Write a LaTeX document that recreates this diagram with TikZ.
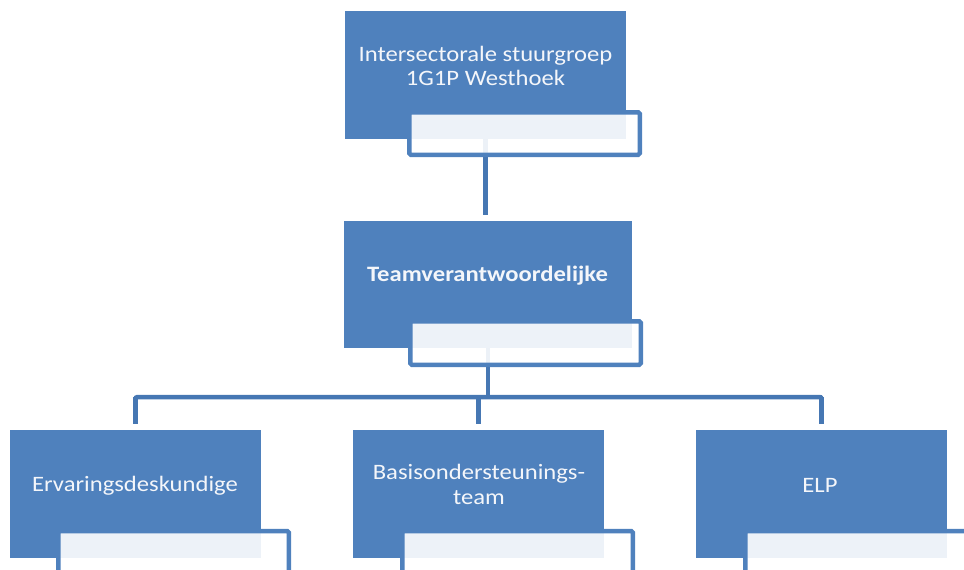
\documentclass[tikz,border=0pt]{standalone}
\usepackage{fontspec}
\setmainfont{Carlito}[FakeStretch=1.12]
\definecolor{accent}{HTML}{4F81BD}
\definecolor{linec}{HTML}{4677B3}
\definecolor{txt}{HTML}{F4F6FA}
\begin{document}
\begin{tikzpicture}[x=1pt,y=-1pt,
  bluebox/.style={fill=accent,draw=none,inner sep=0pt,outer sep=0pt},
  subbox/.style={draw=accent,line width=4.5pt,fill=white,fill opacity=0.9,draw opacity=1,rounded corners=1.5pt,inner sep=0pt,outer sep=0pt},
  conn/.style={draw=linec,line width=4.5pt,rounded corners=2pt},
  lbl/.style={text=txt,font=\fontsize{22}{24.3}\selectfont,align=center,inner sep=0pt}]
\useasboundingbox (0,0) rectangle (964,570);
\begin{scope}
\clip (0,0) rectangle (964,570);
% blue boxes
\node[bluebox,minimum width=281pt,minimum height=128pt] (top) at (485.5,75) {};
\node[bluebox,minimum width=288pt,minimum height=127pt] (mid) at (488,284.5) {};
\node[bluebox,minimum width=251pt,minimum height=128pt] (b1) at (135.5,494) {};
\node[bluebox,minimum width=251pt,minimum height=128pt] (b2) at (478.5,494) {};
\node[bluebox,minimum width=251pt,minimum height=128pt] (b3) at (821.5,494) {};
% connectors
\coordinate (bus) at (0,397);
\draw[conn,shorten >=6pt] (top.south) -- (top.south|-mid.north);
\draw[conn] (mid.south) -- (mid.south|-bus);
\draw[conn,shorten >=6pt] (b1.north|-bus) -- (b1.north);
\draw[conn,shorten >=6pt] (b3.north|-bus) -- (b3.north);
\draw[conn,shorten >=6pt] (b2.north|-bus) -- (b2.north);
\draw[conn,sharp corners] (b1.north|-bus) -- (b3.north|-bus);
\draw[conn] ([yshift=-10pt]b1.north|-bus) |- (b2.north|-bus) -| ([yshift=-10pt]b3.north|-bus);
% sub boxes
\node[subbox,minimum width=230.5pt,minimum height=42.5pt] (tsub) at (524.5,133.5) {};
\node[subbox,minimum width=230.5pt,minimum height=43.5pt] (msub) at (525.5,343) {};
\node[subbox,minimum width=230.5pt,minimum height=49pt] (s1) at (173.5,555.5) {};
\node[subbox,minimum width=230.5pt,minimum height=49pt] (s2) at (517.5,555.5) {};
\node[subbox,minimum width=230.5pt,minimum height=49pt] (s3) at (860.5,555.5) {};
% labels
\node[lbl] (ttop) at (485.5,66) {Intersectorale stuurgroep\\1G1P Westhoek};
\node[lbl,font=\fontsize{22}{24.3}\selectfont\bfseries] (tmid) at (487.5,276) {Teamverantwoordelijke};
\node[lbl] (t1) at (135,486) {Ervaringsdeskundige};
\node[lbl] (t2) at (479,484.3) {Basisondersteunings-\\team};
\node[lbl] (t3) at (820,485.2) {ELP};
\end{scope}
\end{tikzpicture}
\end{document}
